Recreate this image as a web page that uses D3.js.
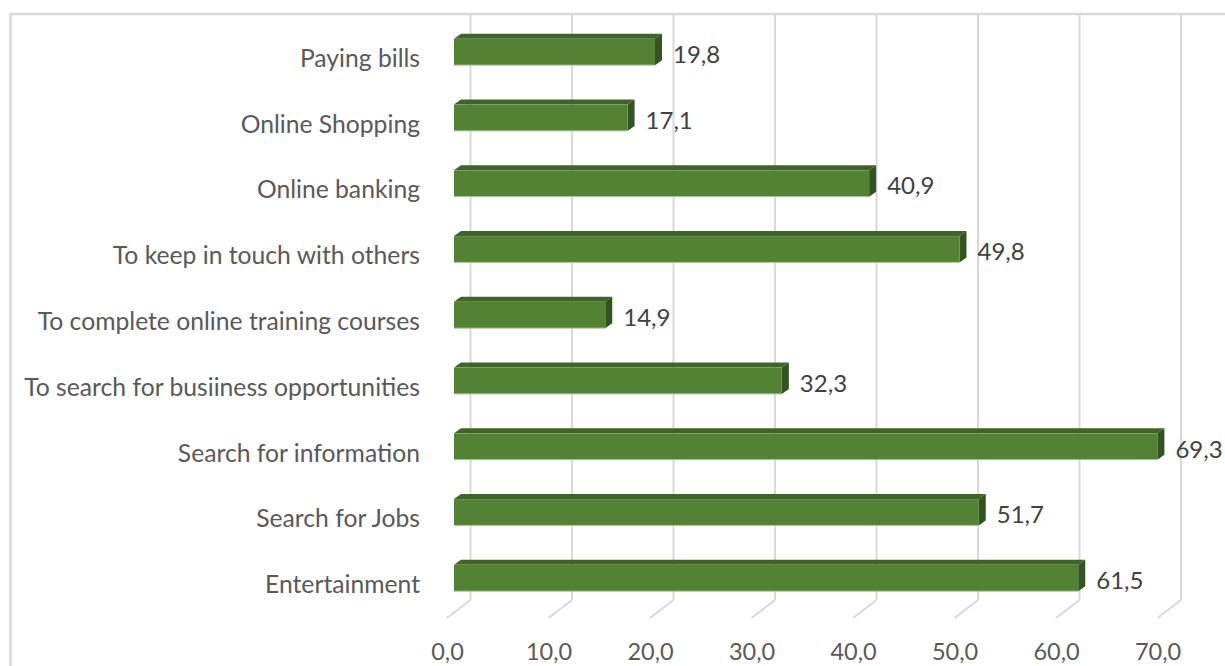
<!DOCTYPE html>
<html>
<head>
<meta charset="utf-8">
<script src="https://cdn.jsdelivr.net/npm/d3@7"></script>
<style>
  html, body { margin: 0; padding: 0; background: #ffffff; }
  svg { display: block; }
  text { font-family: Lato, "Open Sans", sans-serif; }
</style>
</head>
<body>
<svg id="chart" width="1225" height="666"></svg>
<script>
// Purposes of internet use (percent of respondents)
const categories = [
  "Paying bills",
  "Online Shopping",
  "Online banking",
  "To keep in touch with others",
  "To complete online training courses",
  "To search for busiiness opportunities",
  "Search for information",
  "Search for Jobs",
  "Entertainment"
];
const values = [19.8, 17.1, 40.9, 49.8, 14.9, 32.3, 69.3, 51.7, 61.5];
const tickValues = [0, 10, 20, 30, 40, 50, 60, 70];

const svg = d3.select("#chart");
const W = 1225, H = 666;

// Oblique 3D frame: front floor edge, bar plane and back wall
const frontX0 = 447, backX0 = 470.5, barX0 = 454;
const wallTop = 15, wallBottom = 600, floorFront = 618;
const depthX = 7, depthY = 5; // bar thickness in depth

const x = d3.scaleLinear().domain([0, 70]).range([0, 710.5]);
const y = d3.scaleBand().domain(categories)
  .range([19.1, 610.9]).paddingInner(0.6).paddingOuter(0.3);

const fmt = v => d3.format(".1f")(v).replace(".", ",");

// Outer chart-area border
svg.append("path")
  .attr("d", `M10.5,${H} V14 H${W}`)
  .attr("fill", "none").attr("stroke", "#d9d9d9").attr("stroke-width", 2.5);

// Back-wall gridlines
svg.append("g").selectAll("line").data(tickValues).join("line")
  .attr("x1", d => backX0 + x(d)).attr("x2", d => backX0 + x(d))
  .attr("y1", wallTop).attr("y2", wallBottom)
  .attr("stroke", "#d9d9d9").attr("stroke-width", 2);

// Floor gridlines running toward the viewer
svg.append("g").selectAll("line").data(tickValues).join("line")
  .attr("x1", d => backX0 + x(d)).attr("y1", wallBottom)
  .attr("x2", d => frontX0 + x(d)).attr("y2", floorFront)
  .attr("stroke", "#d9d9d9").attr("stroke-width", 2);

// Bars: top face, right side face, front face
const bars = svg.append("g").selectAll("g").data(categories).join("g");
bars.append("path") // top face
  .attr("d", (c, i) => {
    const x1 = barX0 + x(values[i]), y0 = y(c);
    return `M${barX0},${y0} L${barX0 + depthX},${y0 - depthY} L${x1 + depthX},${y0 - depthY} L${x1},${y0} Z`;
  })
  .attr("fill", "#3f6429");
bars.append("path") // side face
  .attr("d", (c, i) => {
    const x1 = barX0 + x(values[i]), y0 = y(c), y1 = y(c) + y.bandwidth();
    return `M${x1},${y0} L${x1 + depthX},${y0 - depthY} L${x1 + depthX},${y1 - depthY} L${x1},${y1} Z`;
  })
  .attr("fill", "#335420");
bars.append("rect") // front face
  .attr("x", barX0)
  .attr("y", c => y(c))
  .attr("width", (c, i) => x(values[i]))
  .attr("height", y.bandwidth())
  .attr("fill", "#548235");
bars.append("line") // light lower edge
  .attr("x1", barX0).attr("x2", (c, i) => barX0 + x(values[i]))
  .attr("y1", c => y(c) + y.bandwidth()).attr("y2", c => y(c) + y.bandwidth())
  .attr("stroke", "#a9c99a").attr("stroke-width", 1);

// Value labels
svg.append("g").selectAll("text").data(categories).join("text")
  .attr("x", (c, i) => barX0 + x(values[i]) + depthX + 11)
  .attr("y", c => y(c) + y.bandwidth() / 2 + 11)
  .attr("font-size", 24)
  .attr("fill", "#404040")
  .text((c, i) => fmt(values[i]));

// Category axis
const yAxis = svg.append("g")
  .attr("transform", "translate(420,0)")
  .call(d3.axisLeft(y).tickSize(0).tickPadding(0));
yAxis.select(".domain").remove();
yAxis.selectAll("text")
  .attr("dy", null)
  .attr("y", 15)
  .attr("font-size", 24.7).attr("fill", "#595959")
  .style("font-family", "Lato, 'Open Sans', sans-serif");

// Value axis along the front floor edge
const xAxis = svg.append("g")
  .attr("transform", `translate(${frontX0},0)`)
  .call(d3.axisBottom(x).tickValues(tickValues).tickFormat(fmt).tickSize(0).tickPadding(0));
xAxis.select(".domain").remove();
xAxis.selectAll("text")
  .attr("dy", null)
  .attr("y", 660)
  .attr("font-size", 23.5).attr("fill", "#595959")
  .style("font-family", "Lato, 'Open Sans', sans-serif");
</script>
</body>
</html>
